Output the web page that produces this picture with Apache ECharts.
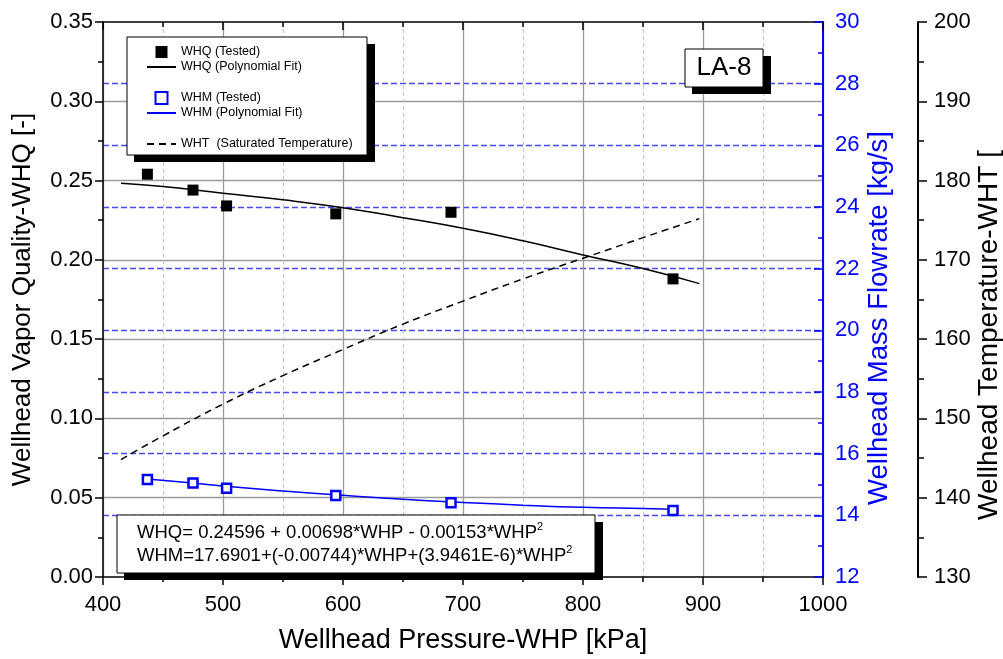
<!DOCTYPE html>
<html>
  <head>
    <meta charset="utf-8" />
    <title>LA-8 wellhead</title>
    <script src="https://cdn.jsdelivr.net/npm/echarts@6/dist/echarts.min.js"></script>
    <style>
      html, body { margin: 0; padding: 0; background: #fff; }
    </style>
  </head>
  <body>
    <div id="main" style="width: 1003px;height:659px;"></div>
    <script type="text/javascript">
      // tested points (pressure kPa)
      var whpTested = [437, 475, 503, 594, 690, 875];
      var whqTested = [0.254, 0.244, 0.234, 0.229, 0.230, 0.188];
      var whmTested = [15.16, 15.05, 14.88, 14.64, 14.41, 14.16];

      // fitted curves
      var whpFitQ = [415, 450, 500, 550, 600, 650, 700, 750, 800, 850, 897];
      var whqFit = [0.2483, 0.2462, 0.2420, 0.2379, 0.2329, 0.2266, 0.2199, 0.2120, 0.2031, 0.1945, 0.1850];
      var whpFitM = [437, 475, 500, 550, 600, 650, 700, 750, 800, 850, 875];
      var whmFit = [15.18, 15.05, 14.95, 14.79, 14.65, 14.52, 14.42, 14.33, 14.26, 14.22, 14.20];
      var whpFitT = [415, 450, 500, 550, 600, 650, 700, 750, 800, 850, 897];
      var whtSat = [144.8, 147.8, 151.8, 155.4, 158.7, 161.9, 164.8, 167.6, 170.2, 172.8, 175.2];

      var pairs = function (xs, ys) {
        return xs.map(function (x, i) { return [x, ys[i]]; });
      };

      var FONT = 'Liberation Sans, Arial, sans-serif';
      var BLUE = '#0000ff';
      var SQUARE = 'path://M0,0h10v10h-10z';

      var legendText = { fontSize: 12.5, color: '#000', lineHeight: 14, fontFamily: FONT };
      // line entries: hide the marker that echarts puts on the legend line
      var lineOnly = function (name) {
        return { name: name, itemStyle: { opacity: 0 } };
      };

      var myChart = echarts.init(document.getElementById('main'));

      var option = {
        animation: false,
        textStyle: { fontFamily: FONT },
        grid: { left: 103, right: 180, top: 22, bottom: 82 },
        legend: [
          {
            data: ['WHQ (Tested)', lineOnly('WHQ (Polynomial Fit)')],
            orient: 'vertical', left: 146, top: 45, padding: 0, itemGap: 1,
            itemWidth: 29, itemHeight: 12, symbolKeepAspect: true, z: 10,
            textStyle: legendText
          },
          {
            data: ['WHM (Tested)', lineOnly('WHM (Polynomial Fit)')],
            orient: 'vertical', left: 146, top: 91, padding: 0, itemGap: 1,
            itemWidth: 29, itemHeight: 12, symbolKeepAspect: true, z: 10,
            textStyle: legendText
          },
          {
            data: [lineOnly('WHT  (Saturated Temperature)')],
            orient: 'vertical', left: 146, top: 137, padding: 0,
            itemWidth: 29, itemHeight: 12, symbolKeepAspect: true, z: 10,
            textStyle: legendText
          }
        ],
        xAxis: [
          {
            type: 'value', position: 'bottom', min: 400, max: 1000, interval: 100,
            name: 'Wellhead Pressure-WHP [kPa]', nameLocation: 'middle', nameGap: 50,
            nameTextStyle: { fontSize: 27, color: '#000' },
            axisLine: { lineStyle: { color: '#000', width: 1.5 } },
            axisTick: { inside: false, length: 8, lineStyle: { color: '#000', width: 1.5 } },
            minorTick: { show: true, splitNumber: 2, length: 5, lineStyle: { color: '#000', width: 1.5 } },
            axisLabel: { fontSize: 22, color: '#000', margin: 17, formatter: function (v) { return String(v); } },
            splitLine: { show: true, lineStyle: { color: '#9a9a9a', width: 1.3 } },
            minorSplitLine: { show: true, lineStyle: { color: '#c4c4c4', type: [4, 3], width: 1 } }
          },
          {
            type: 'value', position: 'top', min: 400, max: 1000, interval: 100,
            axisLine: { lineStyle: { color: '#000', width: 1.5 } },
            axisTick: { inside: true, length: 8, lineStyle: { color: '#000', width: 1.5 } },
            minorTick: { show: true, splitNumber: 2, length: 5, lineStyle: { color: '#000', width: 1.5 } },
            axisLabel: { show: false },
            splitLine: { show: false }
          }
        ],
        yAxis: [
          {
            type: 'value', position: 'left', min: 0, max: 0.35, interval: 0.05,
            name: 'Wellhead Vapor Quality-WHQ [-]', nameLocation: 'middle', nameGap: 67,
            nameTextStyle: { fontSize: 26, color: '#000' },
            axisLine: { show: true, lineStyle: { color: '#000', width: 1.5 } },
            axisTick: { show: true, inside: false, length: 8, lineStyle: { color: '#000', width: 1.5 } },
            minorTick: { show: true, splitNumber: 2, length: 5, lineStyle: { color: '#000', width: 1.5 } },
            axisLabel: { fontSize: 22, color: '#000', margin: 10, formatter: function (v) { return v.toFixed(2); } },
            splitLine: { show: true, showMinLine: false, showMaxLine: false, lineStyle: { color: '#9a9a9a', width: 1.3 } }
          },
          {
            type: 'value', position: 'right', min: 12, max: 30, interval: 2,
            axisLine: { show: true, lineStyle: { color: BLUE, width: 2 } },
            axisTick: { show: true, inside: true, length: 9, lineStyle: { color: BLUE, width: 1.5 } },
            minorTick: { show: true, splitNumber: 2, length: 5, lineStyle: { color: BLUE, width: 1.5 } },
            axisLabel: { fontSize: 22, color: BLUE, margin: 12 },
            splitLine: { show: true, showMinLine: false, showMaxLine: false, lineStyle: { color: '#4848ff', type: [6, 3], width: 1.3 } }
          },
          {
            type: 'value', position: 'right', offset: 95, min: 130, max: 200, interval: 10,
            axisLine: { show: true, lineStyle: { color: '#000', width: 2 } },
            axisTick: { show: true, inside: false, length: 9, lineStyle: { color: '#000', width: 1.5 } },
            minorTick: { show: true, splitNumber: 2, length: 6, lineStyle: { color: '#000', width: 1.5 } },
            axisLabel: { fontSize: 22, color: '#000', margin: 16 },
            splitLine: { show: false }
          }
        ],
        series: [
          {
            name: 'WHQ (Tested)', type: 'scatter', xAxisIndex: 0, yAxisIndex: 0,
            symbol: SQUARE, symbolSize: 11, itemStyle: { color: '#000', opacity: 1 }, z: 5,
            data: pairs(whpTested, whqTested)
          },
          {
            name: 'WHQ (Polynomial Fit)', type: 'line', xAxisIndex: 0, yAxisIndex: 0,
            symbol: 'none', smooth: true, lineStyle: { color: '#000', width: 1.5 },
            itemStyle: { color: '#000' },
            data: pairs(whpFitQ, whqFit)
          },
          {
            name: 'WHM (Tested)', type: 'scatter', xAxisIndex: 0, yAxisIndex: 1,
            symbol: SQUARE, symbolSize: 9, z: 5,
            itemStyle: { color: '#fff', borderColor: BLUE, borderWidth: 2.5, opacity: 1 },
            data: pairs(whpTested, whmTested)
          },
          {
            name: 'WHM (Polynomial Fit)', type: 'line', xAxisIndex: 0, yAxisIndex: 1,
            symbol: 'none', smooth: true, lineStyle: { color: BLUE, width: 1.5 },
            itemStyle: { color: BLUE },
            data: pairs(whpFitM, whmFit)
          },
          {
            name: 'WHT  (Saturated Temperature)', type: 'line', xAxisIndex: 0, yAxisIndex: 2,
            symbol: 'none', smooth: true, lineStyle: { color: '#000', width: 1.5, type: [7, 5] },
            itemStyle: { color: '#000' },
            data: pairs(whpFitT, whtSat)
          }
        ],
        graphic: [
          // legend frame
          { type: 'rect', z: 8, shape: { x: 134, y: 44, width: 241, height: 118 }, style: { fill: '#000' } },
          { type: 'rect', z: 9, shape: { x: 127, y: 37, width: 240, height: 118 }, style: { fill: '#fff', stroke: '#000', lineWidth: 1 } },
          // LA-8 tag
          { type: 'rect', z: 8, shape: { x: 692, y: 56, width: 79, height: 38 }, style: { fill: '#000' } },
          { type: 'rect', z: 9, shape: { x: 685, y: 49, width: 78, height: 38 }, style: { fill: '#fff', stroke: '#000', lineWidth: 1 } },
          { type: 'text', z: 10, style: { text: 'LA-8', x: 724, y: 68, textAlign: 'center', textVerticalAlign: 'middle', font: '26px ' + FONT, fill: '#000' } },
          // equation box
          { type: 'rect', z: 8, shape: { x: 124, y: 522, width: 479, height: 58 }, style: { fill: '#000' } },
          { type: 'rect', z: 9, shape: { x: 117, y: 515, width: 478, height: 58 }, style: { fill: '#fff', stroke: '#000', lineWidth: 1 } },
          {
            type: 'text', z: 10, left: 137, top: 521,
            style: {
              text: '{a|WHQ= 0.24596 + 0.00698*WHP - 0.00153*WHP}{s|2}\n{a|WHM=17.6901+(-0.00744)*WHP+(3.9461E-6)*WHP}{s|2}',
              rich: {
                a: { fontSize: 18.5, lineHeight: 23.5, fontFamily: FONT, fill: '#000' },
                s: { fontSize: 11, lineHeight: 11, verticalAlign: 'top', fontFamily: FONT, fill: '#000' }
              },
              fill: '#000'
            }
          },
          // right-hand axis titles
          {
            type: 'text', z: 10, x: 879, y: 318, rotation: Math.PI / 2,
            style: { text: 'Wellhead Mass Flowrate [kg/s]', textAlign: 'center', textVerticalAlign: 'middle', font: '27.5px ' + FONT, fill: BLUE }
          },
          {
            type: 'text', z: 10, x: 989, y: 335, rotation: Math.PI / 2,
            style: { text: 'Wellhead Temperature-WHT [', textAlign: 'center', textVerticalAlign: 'middle', font: '28px ' + FONT, fill: '#000' }
          }
        ]
      };

      myChart.setOption(option);
    </script>
  </body>
</html>
